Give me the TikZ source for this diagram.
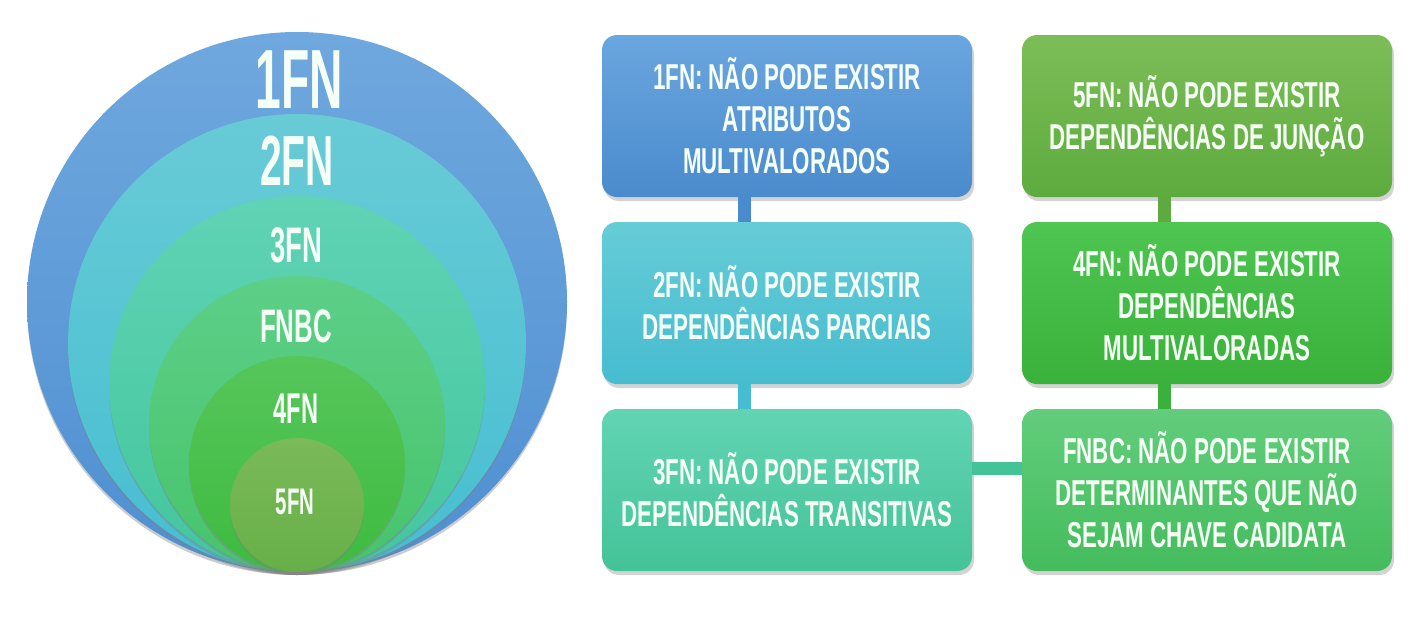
\documentclass[tikz,border=0pt]{standalone}
\usepackage{fontspec}
\newfontfamily\boxfont{Liberation Sans}[FakeStretch=0.62]
\newfontfamily\circfont{Liberation Sans}[FakeStretch=0.55]
\usetikzlibrary{shadows}
\definecolor{c1t}{HTML}{6FA8DE}\definecolor{c1b}{HTML}{4F8FD1}
\definecolor{c2t}{HTML}{68CBD6}\definecolor{c2b}{HTML}{46BED1}
\definecolor{c3t}{HTML}{60D3B5}\definecolor{c3b}{HTML}{43C69D}
\definecolor{c4t}{HTML}{5DCF88}\definecolor{c4b}{HTML}{47C46B}
\definecolor{c5t}{HTML}{56C65B}\definecolor{c5b}{HTML}{3EBB3F}
\definecolor{c6t}{HTML}{7ABA58}\definecolor{c6b}{HTML}{67AF49}
\definecolor{b1t}{HTML}{6AA6DF}\definecolor{b1b}{HTML}{4A8BCD}
\definecolor{b2t}{HTML}{66CCD7}\definecolor{b2b}{HTML}{46BCD0}
\definecolor{b3t}{HTML}{62D4B3}\definecolor{b3b}{HTML}{44C398}
\definecolor{b5t}{HTML}{7DBD58}\definecolor{b5b}{HTML}{5DAB3E}
\definecolor{b4t}{HTML}{4FC552}\definecolor{b4b}{HTML}{39B13A}
\definecolor{bFt}{HTML}{62CD7C}\definecolor{bFb}{HTML}{44BC5C}
\definecolor{txt}{HTML}{F6FFF6}
\tikzset{
  ring/.style={drop shadow={shadow xshift=0pt,shadow yshift=-3pt,opacity=0.4}},
  lbl/.style={text=txt,inner sep=0pt},
  nbox/.style={rectangle,rounded corners=15pt,minimum width=370pt,minimum height=162pt,
    inner sep=0pt,align=center,text=txt,
    font=\boxfont\bfseries\fontsize{36}{42}\selectfont,
    drop shadow={shadow xshift=2pt,shadow yshift=-4pt,opacity=0.35}},
  conn/.style={line width=13pt}
}
\begin{document}
\begin{tikzpicture}[x=1pt,y=-1pt]
\useasboundingbox (0,0) rectangle (1419,632);
% nested circles
\path[ring,top color=c1t,bottom color=c1b] (297,302) circle (270);
\path[ring,top color=c2t,bottom color=c2b] (297,343) circle (229);
\path[ring,top color=c3t,bottom color=c3b] (297,384) circle (188);
\path[ring,top color=c4t,bottom color=c4b] (297,424) circle (148);
\path[ring,top color=c5t,bottom color=c5b] (297,464) circle (108);
\path[ring,top color=c6t,bottom color=c6b] (297,505) circle (67);
% circle labels
\node[lbl,font=\circfont\bfseries\fontsize{84}{84}\selectfont] (l1) at (299,80) {1FN};
\node[lbl,font=\circfont\bfseries\fontsize{71}{71}\selectfont] (l2) at (297,161) {2FN};
\node[lbl,font=\circfont\bfseries\fontsize{50}{50}\selectfont] (l3) at (296,245) {3FN};
\node[lbl,font=\circfont\bfseries\fontsize{47}{47}\selectfont] (l4) at (296,326) {FNBC};
\node[lbl,font=\circfont\bfseries\fontsize{43}{43}\selectfont] (l5) at (296,409) {4FN};
\node[lbl,font=\circfont\bfseries\fontsize{37}{37}\selectfont] (l6) at (295,502) {5FN};
% boxes
\node[nbox,top color=b1t,bottom color=b1b] (b1) at (787,116) {1FN: NÃO PODE EXISTIR\\ATRIBUTOS\\MULTIVALORADOS};
\node[nbox,top color=b2t,bottom color=b2b] (b2) at (787,303) {2FN: NÃO PODE EXISTIR\\DEPENDÊNCIAS PARCIAIS};
\node[nbox,top color=b3t,bottom color=b3b] (b3) at (787,490) {3FN: NÃO PODE EXISTIR\\DEPENDÊNCIAS TRANSITIVAS};
\node[nbox,top color=b5t,bottom color=b5b] (b5) at (1207,116) {5FN: NÃO PODE EXISTIR\\DEPENDÊNCIAS DE JUNÇÃO};
\node[nbox,top color=b4t,bottom color=b4b] (b4) at (1207,303) {4FN: NÃO PODE EXISTIR\\DEPENDÊNCIAS\\MULTIVALORADAS};
\node[nbox,top color=bFt,bottom color=bFb] (bF) at (1207,490) {FNBC: NÃO PODE EXISTIR\\DETERMINANTES QUE NÃO\\SEJAM CHAVE CADIDATA};
% connectors
\draw[conn,color=b1b] ([xshift=-43pt]b1.south) -- ([xshift=-43pt]b2.north);
\draw[conn,color=b2b] ([xshift=-43pt]b2.south) -- ([xshift=-43pt]b3.north);
\draw[conn,color=b5b] ([xshift=-43pt]b5.south) -- ([xshift=-43pt]b4.north);
\draw[conn,color=b4b] ([xshift=-43pt]b4.south) -- ([xshift=-43pt]bF.north);
\draw[conn,color=b3b] ([yshift=22pt]b3.east) -- ([yshift=22pt]bF.west);
\end{tikzpicture}
\end{document}
